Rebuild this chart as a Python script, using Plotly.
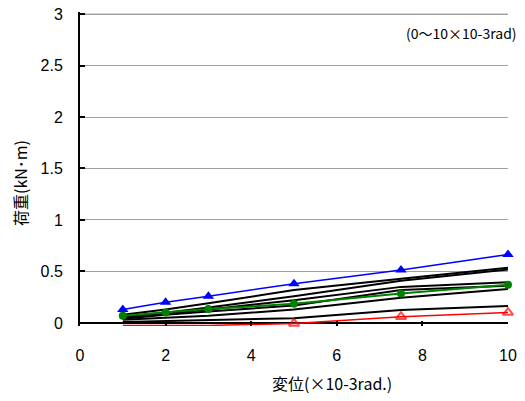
import plotly.graph_objects as go

x = [1, 2, 3, 5, 7.5, 10]
blue = [0.13, 0.20, 0.26, 0.38, 0.515, 0.665]
green = [0.07, 0.10, 0.135, 0.185, 0.285, 0.37]
red = [-0.025, -0.025, -0.025, -0.005, 0.06, 0.10]
black_lines = [
    [0.08, 0.13, 0.19, 0.32, 0.43, 0.535],
    [0.06, 0.10, 0.15, 0.26, 0.41, 0.52],
    [0.05, 0.09, 0.13, 0.22, 0.35, 0.395],
    [0.04, 0.08, 0.11, 0.17, 0.32, 0.36],
    [0.03, 0.05, 0.07, 0.13, 0.245, 0.33],
    [0.01, 0.02, 0.03, 0.045, 0.126, 0.165],
]
xticks = [0, 2, 4, 6, 8, 10]
yticks = [0, 0.5, 1, 1.5, 2, 2.5, 3]
ytick_text = ["0", "0.5", "1", "1.5", "2", "2.5", "3"]

FONT = "Liberation Sans, Noto Sans CJK JP, sans-serif"
JFONT = "Noto Sans CJK JP, sans-serif"

OFF = 0  # body margin removed via post_script
W, H = 525, 401
L, T = 80, 12
R = W - 508
B = H - 326
pw, ph = W - L - R, H - T - B

fig = go.Figure()
for ys in black_lines:
    fig.add_trace(go.Scatter(x=x, y=ys, mode="lines",
                             line=dict(color="black", width=2), cliponaxis=False))
fig.add_trace(go.Scatter(x=x, y=green, mode="lines+markers",
                         line=dict(color="#008000", width=2),
                         marker=dict(symbol="circle", size=8, color="#008000"),
                         cliponaxis=False))
fig.add_trace(go.Scatter(x=x, y=red, mode="lines+markers",
                         line=dict(color="red", width=1.5),
                         marker=dict(symbol="triangle-up-open", size=[0, 0, 0, 9, 9, 9],
                                     color="red", line=dict(width=2)),
                         cliponaxis=False))
fig.add_trace(go.Scatter(x=x, y=blue, mode="lines+markers",
                         line=dict(color="blue", width=1.5),
                         marker=dict(symbol="triangle-up", size=10, color="blue"),
                         cliponaxis=False))

def px_x(p):
    return (p - OFF - L) / pw

def px_y(p):
    return (H - B - (p - OFF)) / ph

fig.update_layout(
    width=W, height=H,
    margin=dict(l=L, r=R, t=T, b=B, autoexpand=False),
    paper_bgcolor="white", plot_bgcolor="white",
    showlegend=False,
    font=dict(family=FONT, size=16, color="black"),
    xaxis=dict(range=[0, 10], tickvals=xticks, showgrid=False, zeroline=False,
               showline=False, automargin=False,
               ticks="inside", ticklen=5, tickcolor="black", tickwidth=1.5,
               ticklabelstandoff=18),
    yaxis=dict(range=[-0.03, 3.02], tickvals=yticks, ticktext=ytick_text,
               showgrid=True, gridcolor="#a0a0a0", gridwidth=1,
               zeroline=True, zerolinecolor="black", zerolinewidth=2,
               showline=True, linecolor="black", linewidth=2, automargin=False,
               ticks="inside", ticklen=5, tickcolor="black", tickwidth=1.5,
               ticklabelstandoff=12, ticklabeloverflow="allow"),
    shapes=[dict(type="line", xref="x", yref="y", x0=0, x1=10, y0=yticks[-1], y1=yticks[-1],
                 line=dict(color="#a0a0a0", width=1), layer="below")],
    annotations=[
        dict(text="(0～10×10-3rad)", x=px_x(519), y=px_y(33), xref="paper", yref="paper",
             xanchor="right", yanchor="middle", showarrow=False,
             font=dict(size=14, family=JFONT)),
        dict(text="変位(×10-3rad.)", x=px_x(332), y=px_y(383), xref="paper", yref="paper",
             xanchor="center", yanchor="middle",
             showarrow=False, font=dict(size=16, family=JFONT)),
        dict(text="荷重(kN･m)", x=px_x(20), y=px_y(183), xref="paper", yref="paper",
             xanchor="center", yanchor="middle",
             showarrow=False, textangle=-90, font=dict(size=16, family=JFONT)),
    ],
)

fig.write_html("out.html", config={"displayModeBar": False},
               post_script="document.body.style.margin='0';")
